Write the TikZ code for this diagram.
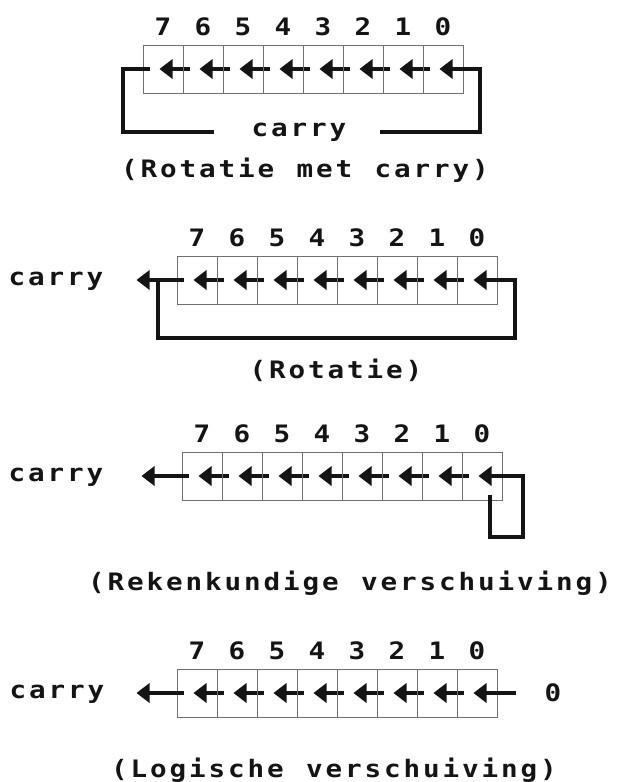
\documentclass[tikz,border=0pt]{standalone}
\usepackage{fontspec}
\newfontfamily\pixfont{DejaVu Sans Mono}[FakeStretch=1.15]
\usetikzlibrary{calc}
\ExplSyntaxOn
\NewDocumentCommand\spaced{m}{\str_map_inline:nn{#1}{\makebox[19.5pt]{##1}}}
\ExplSyntaxOff
\definecolor{ink}{HTML}{141414}
\definecolor{gridc}{HTML}{707070}
\tikzset{
  txt/.style={font=\pixfont\bfseries\fontsize{24}{24}\selectfont, text=ink, inner sep=0pt},
  cell/.style={draw=gridc, line width=0.9pt, rectangle, minimum width=40pt, minimum height=48pt, inner sep=0pt},
  shaft/.style={draw=ink, line width=3.8pt},
  loopline/.style={draw=ink, line width=4pt, line join=miter},
  head/.pic={\fill[ink] (0,0) -- (13,-10) -- (13,10) -- cycle;}
}
\begin{document}
\begin{tikzpicture}[x=1pt,y=-1pt]
\fill[white] (0,0) rectangle (616,782);
\useasboundingbox (0,0) rectangle (616,782);
% registers, cells, digits and inner arrows
\foreach \d/\L/\T in {1/143/45, 2/177/256, 3/182/452, 4/177/669} {
  \foreach \k in {0,...,7} {
    \pgfmathtruncatemacro\b{7-\k}
    \node[cell] (d\d-c\b) at (\L+20+40*\k, \T+24) {};
    \node[txt] (d\d-n\b) at (\L+20+40*\k, \T-18) {\b};
    \pic at ($(d\d-c\b.west)+(17,0)$) {head};
    \ifnum\b>0
      \draw[shaft] ($(d\d-c\b.west)+(28,0)$) -- ($(d\d-c\b.east)+(7,0)$);
    \fi
  }
}
% ---- 1: Rotatie met carry
\node[txt] (d1-carry) at (299,132) {\spaced{carry}};
\node[txt] (t1) at (305,170) {\spaced{(Rotatie met carry)}};
\draw[loopline] ($(d1-c7.west)+(7,0)$) -- ++(-27,0) |- ($(d1-carry.west)+(-36,0)$);
\draw[loopline] ($(d1-carry.east)+(32,0)$) -| ($(d1-c0.east)+(17,0)$) -- ($(d1-c0.west)+(28,0)$);
% ---- 2: Rotatie
\node[txt] (d2-carry) at (56,281) {\spaced{carry}};
\node[txt] (t2) at (336,370) {\spaced{(Rotatie)}};
\pic at ($(d2-c7.west)+(-40,0)$) {head};
\draw[shaft] ($(d2-c7.west)+(-29,0)$) -- ($(d2-c7.west)+(7,0)$);
\draw[loopline] ($(d2-c7.west)+(-19,0)$) -- ++(0,58) -| ($(d2-c0.east)+(18,0)$) -- ($(d2-c0.west)+(28,0)$);
% ---- 3: Rekenkundige verschuiving
\node[txt] (d3-carry) at (56,477) {\spaced{carry}};
\node[txt] (t3) at (350,583) {\spaced{(Rekenkundige verschuiving)}};
\pic at ($(d3-c7.west)+(-40,0)$) {head};
\draw[shaft] ($(d3-c7.west)+(-29,0)$) -- ($(d3-c7.west)+(7,0)$);
\draw[loopline] ($(d3-c0.west)+(28,0)$) -- ($(d3-c0.east)+(21,0)$) -- ++(0,61) -| ($(d3-c0.west)+(28,19)$);
% ---- 4: Logische verschuiving
\node[txt] (d4-carry) at (57,694) {\spaced{carry}};
\node[txt] (d4-zero) at (553,693) {0};
\node[txt] (t4) at (334,770) {\spaced{(Logische verschuiving)}};
\pic at ($(d4-c7.west)+(-40,0)$) {head};
\draw[shaft] ($(d4-c7.west)+(-29,0)$) -- ($(d4-c7.west)+(7,0)$);
\draw[shaft] ($(d4-c0.west)+(28,0)$) -- ($(d4-zero.west)+(-28,0)$);
\end{tikzpicture}
\end{document}
